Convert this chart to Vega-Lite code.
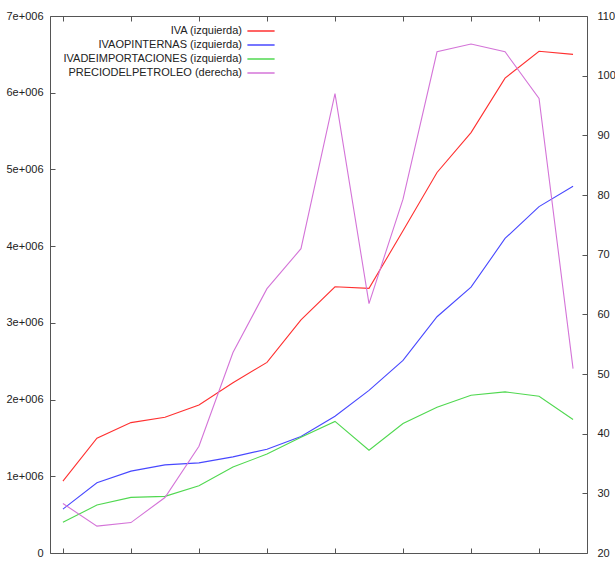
{
  "$schema": "https://vega.github.io/schema/vega-lite/v6.json",
  "width": 537,
  "height": 537,
  "autosize": {"type": "none"},
  "padding": {"left": 50, "top": 16, "right": 28, "bottom": 8},
  "background": "white",
  "config": {
    "view": {"stroke": "#555555", "strokeWidth": 1},
    "font": "Liberation Sans, Arial, sans-serif",
    "axis": {
      "domain": false,
      "grid": false,
      "title": null,
      "tickColor": "#555555",
      "tickSize": -5,
      "labelFont": "Liberation Sans, Arial, sans-serif",
      "labelFontSize": 11,
      "labelColor": "#222222"
    }
  },
  "data": {
    "values": [
      {"anio": 2000, "serie": "IVA (izquierda)", "eje": "izq", "valor": 937000},
      {"anio": 2001, "serie": "IVA (izquierda)", "eje": "izq", "valor": 1496000},
      {"anio": 2002, "serie": "IVA (izquierda)", "eje": "izq", "valor": 1700000},
      {"anio": 2003, "serie": "IVA (izquierda)", "eje": "izq", "valor": 1770000},
      {"anio": 2004, "serie": "IVA (izquierda)", "eje": "izq", "valor": 1930000},
      {"anio": 2005, "serie": "IVA (izquierda)", "eje": "izq", "valor": 2220000},
      {"anio": 2006, "serie": "IVA (izquierda)", "eje": "izq", "valor": 2485000},
      {"anio": 2007, "serie": "IVA (izquierda)", "eje": "izq", "valor": 3040000},
      {"anio": 2008, "serie": "IVA (izquierda)", "eje": "izq", "valor": 3470000},
      {"anio": 2009, "serie": "IVA (izquierda)", "eje": "izq", "valor": 3450000},
      {"anio": 2010, "serie": "IVA (izquierda)", "eje": "izq", "valor": 4200000},
      {"anio": 2011, "serie": "IVA (izquierda)", "eje": "izq", "valor": 4960000},
      {"anio": 2012, "serie": "IVA (izquierda)", "eje": "izq", "valor": 5480000},
      {"anio": 2013, "serie": "IVA (izquierda)", "eje": "izq", "valor": 6190000},
      {"anio": 2014, "serie": "IVA (izquierda)", "eje": "izq", "valor": 6540000},
      {"anio": 2015, "serie": "IVA (izquierda)", "eje": "izq", "valor": 6500000},
      {"anio": 2000, "serie": "IVAOPINTERNAS (izquierda)", "eje": "izq", "valor": 572000},
      {"anio": 2001, "serie": "IVAOPINTERNAS (izquierda)", "eje": "izq", "valor": 915000},
      {"anio": 2002, "serie": "IVAOPINTERNAS (izquierda)", "eje": "izq", "valor": 1067000},
      {"anio": 2003, "serie": "IVAOPINTERNAS (izquierda)", "eje": "izq", "valor": 1149000},
      {"anio": 2004, "serie": "IVAOPINTERNAS (izquierda)", "eje": "izq", "valor": 1175000},
      {"anio": 2005, "serie": "IVAOPINTERNAS (izquierda)", "eje": "izq", "valor": 1253000},
      {"anio": 2006, "serie": "IVAOPINTERNAS (izquierda)", "eje": "izq", "valor": 1353000},
      {"anio": 2007, "serie": "IVAOPINTERNAS (izquierda)", "eje": "izq", "valor": 1520000},
      {"anio": 2008, "serie": "IVAOPINTERNAS (izquierda)", "eje": "izq", "valor": 1782000},
      {"anio": 2009, "serie": "IVAOPINTERNAS (izquierda)", "eje": "izq", "valor": 2120000},
      {"anio": 2010, "serie": "IVAOPINTERNAS (izquierda)", "eje": "izq", "valor": 2510000},
      {"anio": 2011, "serie": "IVAOPINTERNAS (izquierda)", "eje": "izq", "valor": 3080000},
      {"anio": 2012, "serie": "IVAOPINTERNAS (izquierda)", "eje": "izq", "valor": 3465000},
      {"anio": 2013, "serie": "IVAOPINTERNAS (izquierda)", "eje": "izq", "valor": 4100000},
      {"anio": 2014, "serie": "IVAOPINTERNAS (izquierda)", "eje": "izq", "valor": 4515000},
      {"anio": 2015, "serie": "IVAOPINTERNAS (izquierda)", "eje": "izq", "valor": 4780000},
      {"anio": 2000, "serie": "IVADEIMPORTACIONES (izquierda)", "eje": "izq", "valor": 400000},
      {"anio": 2001, "serie": "IVADEIMPORTACIONES (izquierda)", "eje": "izq", "valor": 625000},
      {"anio": 2002, "serie": "IVADEIMPORTACIONES (izquierda)", "eje": "izq", "valor": 725000},
      {"anio": 2003, "serie": "IVADEIMPORTACIONES (izquierda)", "eje": "izq", "valor": 738000},
      {"anio": 2004, "serie": "IVADEIMPORTACIONES (izquierda)", "eje": "izq", "valor": 876000},
      {"anio": 2005, "serie": "IVADEIMPORTACIONES (izquierda)", "eje": "izq", "valor": 1120000},
      {"anio": 2006, "serie": "IVADEIMPORTACIONES (izquierda)", "eje": "izq", "valor": 1290000},
      {"anio": 2007, "serie": "IVADEIMPORTACIONES (izquierda)", "eje": "izq", "valor": 1510000},
      {"anio": 2008, "serie": "IVADEIMPORTACIONES (izquierda)", "eje": "izq", "valor": 1715000},
      {"anio": 2009, "serie": "IVADEIMPORTACIONES (izquierda)", "eje": "izq", "valor": 1340000},
      {"anio": 2010, "serie": "IVADEIMPORTACIONES (izquierda)", "eje": "izq", "valor": 1687000},
      {"anio": 2011, "serie": "IVADEIMPORTACIONES (izquierda)", "eje": "izq", "valor": 1900000},
      {"anio": 2012, "serie": "IVADEIMPORTACIONES (izquierda)", "eje": "izq", "valor": 2056000},
      {"anio": 2013, "serie": "IVADEIMPORTACIONES (izquierda)", "eje": "izq", "valor": 2100000},
      {"anio": 2014, "serie": "IVADEIMPORTACIONES (izquierda)", "eje": "izq", "valor": 2043000},
      {"anio": 2015, "serie": "IVADEIMPORTACIONES (izquierda)", "eje": "izq", "valor": 1740000},
      {"anio": 2000, "serie": "PRECIODELPETROLEO (derecha)", "eje": "der", "valor": 28.3},
      {"anio": 2001, "serie": "PRECIODELPETROLEO (derecha)", "eje": "der", "valor": 24.5},
      {"anio": 2002, "serie": "PRECIODELPETROLEO (derecha)", "eje": "der", "valor": 25.1},
      {"anio": 2003, "serie": "PRECIODELPETROLEO (derecha)", "eje": "der", "valor": 29.3},
      {"anio": 2004, "serie": "PRECIODELPETROLEO (derecha)", "eje": "der", "valor": 37.9},
      {"anio": 2005, "serie": "PRECIODELPETROLEO (derecha)", "eje": "der", "valor": 53.6},
      {"anio": 2006, "serie": "PRECIODELPETROLEO (derecha)", "eje": "der", "valor": 64.3},
      {"anio": 2007, "serie": "PRECIODELPETROLEO (derecha)", "eje": "der", "valor": 71.0},
      {"anio": 2008, "serie": "PRECIODELPETROLEO (derecha)", "eje": "der", "valor": 97.0},
      {"anio": 2009, "serie": "PRECIODELPETROLEO (derecha)", "eje": "der", "valor": 61.8},
      {"anio": 2010, "serie": "PRECIODELPETROLEO (derecha)", "eje": "der", "valor": 79.3},
      {"anio": 2011, "serie": "PRECIODELPETROLEO (derecha)", "eje": "der", "valor": 104.0},
      {"anio": 2012, "serie": "PRECIODELPETROLEO (derecha)", "eje": "der", "valor": 105.3},
      {"anio": 2013, "serie": "PRECIODELPETROLEO (derecha)", "eje": "der", "valor": 104.0},
      {"anio": 2014, "serie": "PRECIODELPETROLEO (derecha)", "eje": "der", "valor": 96.2},
      {"anio": 2015, "serie": "PRECIODELPETROLEO (derecha)", "eje": "der", "valor": 50.9}
    ]
  },
  "layer": [
    {
      "transform": [{"filter": "datum.eje == 'izq'"}],
      "mark": {"type": "line", "strokeWidth": 1.1},
      "encoding": {
        "x": {
          "field": "anio", "type": "quantitative",
          "scale": {"domain": [1999.62, 2015.41], "nice": false, "zero": false},
          "axis": {"orient": "bottom", "values": [2000, 2002, 2004, 2006, 2008, 2010, 2012, 2014], "labels": false}
        },
        "y": {
          "field": "valor", "type": "quantitative",
          "scale": {"domain": [0, 7000000], "nice": false},
          "axis": {
            "orient": "left",
            "values": [0, 1000000, 2000000, 3000000, 4000000, 5000000, 6000000, 7000000],
            "labelExpr": "datum.value == 0 ? '0' : (datum.value / 1000000) + 'e+006'",
            "labelPadding": 12
          }
        },
        "color": {
          "field": "serie", "type": "nominal",
          "scale": {
            "domain": ["IVA (izquierda)", "IVAOPINTERNAS (izquierda)", "IVADEIMPORTACIONES (izquierda)", "PRECIODELPETROLEO (derecha)"],
            "range": ["#ff3030", "#4848ff", "#50d850", "#d474d8"]
          },
          "legend": {
            "orient": "none",
            "legendX": 202,
            "legendY": 6,
            "title": null,
            "symbolType": "M-1.7,0H1.7",
            "symbolSize": 256,
            "symbolStrokeWidth": 1.5,
            "labelAlign": "right",
            "labelOffset": -28,
            "labelFont": "Liberation Sans, Arial, sans-serif",
            "labelFontSize": 11,
            "labelColor": "#222222",
            "labelLimit": 400,
            "rowPadding": 0,
            "padding": 0
          }
        }
      }
    },
    {
      "transform": [{"filter": "datum.eje == 'der'"}],
      "mark": {"type": "line", "strokeWidth": 1.1},
      "encoding": {
        "x": {
          "field": "anio", "type": "quantitative",
          "axis": {"orient": "top", "values": [2000, 2002, 2004, 2006, 2008, 2010, 2012, 2014], "labels": false}
        },
        "y": {
          "field": "valor", "type": "quantitative",
          "scale": {"domain": [20, 110], "nice": false, "zero": false},
          "axis": {
            "orient": "right",
            "values": [20, 30, 40, 50, 60, 70, 80, 90, 100, 110],
            "labelPadding": 15
          }
        },
        "color": {"field": "serie", "type": "nominal"}
      }
    }
  ],
  "resolve": {"scale": {"y": "independent"}, "axis": {"x": "independent"}}
}
